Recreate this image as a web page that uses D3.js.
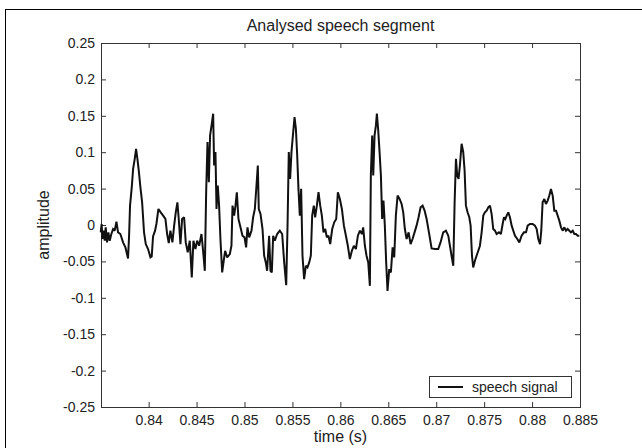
<!DOCTYPE html>
<html><head><meta charset="utf-8">
<script src="https://cdn.jsdelivr.net/npm/d3@7"></script>
<style>
body{margin:0;background:#fff}
text{font-family:"Liberation Sans",Arial,Helvetica,sans-serif}
</style>
</head><body>
<svg id="chart" width="642" height="448"></svg>
<script>
// ---- data ----
const time = [
0.83500,0.83510,0.83517,0.83531,0.83542,0.83552,0.83566,0.83580,0.83594,0.83611,
0.83629,0.83646,0.83664,0.83681,0.83705,0.83733,0.83758,0.83785,0.83796,0.83806,
0.83824,0.83838,0.83855,0.83869,0.83883,0.83897,0.83914,0.83932,0.83952,0.83970,
0.83994,0.84019,0.84032,0.84046,0.84067,0.84081,0.84102,0.84126,0.84151,0.84175,
0.84193,0.84210,0.84227,0.84248,0.84266,0.84283,0.84300,0.84314,0.84332,0.84349,
0.84370,0.84387,0.84408,0.84429,0.84450,0.84467,0.84488,0.84506,0.84527,0.84551,
0.84568,0.84586,0.84600,0.84614,0.84628,0.84641,0.84659,0.84673,0.84683,0.84697,
0.84708,0.84721,0.84735,0.84749,0.84767,0.84781,0.84798,0.84819,0.84847,0.84864,
0.84875,0.84892,0.84906,0.84920,0.84937,0.84958,0.84979,0.85000,0.85017,0.85031,
0.85049,
0.85073,0.85090,0.85108,0.85125,0.85139,0.85149,0.85167,0.85188,0.85205,0.85222,
0.85236,0.85257,0.85271,0.85285,0.85299,0.85316,0.85341,0.85368,0.85393,0.85414,
0.85435,0.85449,0.85462,0.85476,0.85490,0.85508,0.85522,0.85536,0.85549,0.85563,
0.85577,0.85591,0.85605,0.85622,0.85640,0.85657,0.85675,0.85692,0.85706,0.85723,
0.85737,0.85755,0.85772,0.85790,0.85807,0.85824,0.85842,0.85859,0.85876,0.85894,
0.85915,0.85936,0.85957,0.85974,0.85995,0.86016,0.86037,0.86058,0.86078,0.86099,
0.86120,0.86141,0.86162,0.86183,0.86204,0.86225,0.86238,0.86256,0.86273,0.86291,
0.86308,0.86318,0.86332,0.86343,0.86357,0.86371,0.86381,0.86395,0.86409,0.86423,
0.86436,0.86450,0.86464,0.86478,0.86492,0.86510,0.86527,0.86545,0.86562,0.86579,
0.86597,0.86618,0.86639,0.86656,0.86673,0.86691,0.86712,0.86733,0.86753,0.86774,
0.86795,0.86816,0.86837,0.86858,0.86879,0.86900,0.86924,
0.86952,0.86986,0.87021,0.87045,0.87073,0.87101,0.87126,0.87143,0.87160,0.87178,
0.87192,0.87206,0.87219,0.87233,0.87247,0.87265,0.87282,0.87296,0.87310,0.87327,
0.87345,0.87359,0.87373,0.87386,0.87404,0.87421,0.87439,0.87456,0.87474,0.87491,
0.87508,0.87526,0.87543,0.87561,0.87578,0.87595,0.87613,0.87630,0.87654,0.87675,
0.87693,0.87707,0.87721,0.87735,0.87752,0.87769,0.87787,0.87804,0.87822,0.87846,
0.87867,0.87891,0.87915,0.87937,0.87954,0.87978,0.88006,0.88030,0.88048,0.88065,
0.88083,0.88096,0.88110,0.88128,0.88145,0.88163,0.88180,0.88197,0.88215,0.88232,
0.88250,0.88267,0.88284,0.88302,0.88319,0.88337,0.88354,0.88371,0.88389,0.88406,
0.88424,0.88441,0.88458,0.88476,0.88493
];
const amplitude = [
-0.0101,0.0014,-0.0193,-0.0078,-0.0216,-0.0032,-0.0239,-0.0101,-0.0216,-0.0124,
-0.0055,-0.0078,0.0046,-0.0101,-0.0124,-0.0239,-0.0308,-0.0459,-0.0147,0.0266,
0.0519,0.0771,0.0909,0.1047,0.0909,0.0748,0.0519,0.0312,-0.0101,-0.0262,
-0.0331,-0.0445,-0.0432,-0.0156,-0.0078,0.0014,0.0220,0.0174,0.0129,0.0083,
-0.0124,-0.0248,-0.0078,-0.0239,-0.0009,0.0174,0.0312,0.0083,-0.0262,0.0083,
0.0106,-0.0239,-0.0376,-0.0216,-0.0721,-0.0216,-0.0331,-0.0216,-0.0285,-0.0124,
-0.0354,-0.0629,0.0450,0.1139,0.0588,0.1230,0.1391,0.1529,0.0817,0.1001,
0.0220,0.0542,0.0266,-0.0193,-0.0652,-0.0514,-0.0354,-0.0445,-0.0399,-0.0285,
0.0266,0.0129,0.0266,0.0450,0.0083,-0.0032,-0.0147,-0.0170,-0.0308,-0.0032,
-0.0170,
-0.0078,0.0106,0.0220,0.0542,0.0817,0.0220,0.0152,-0.0055,-0.0422,-0.0514,
-0.0629,-0.0147,-0.0629,-0.0652,-0.0147,-0.0216,-0.0124,-0.0078,-0.0124,-0.0514,
-0.0826,-0.0009,0.1001,0.0634,0.1001,0.1276,0.1483,0.1322,0.0978,0.0496,
0.0129,0.0496,-0.0422,-0.0744,-0.0560,-0.0583,-0.0514,-0.0422,0.0129,0.0266,
0.0106,0.0266,0.0450,0.0266,0.0129,-0.0101,-0.0055,-0.0170,-0.0147,-0.0262,
-0.0055,0.0037,0.0083,0.0450,0.0358,0.0220,-0.0009,-0.0147,-0.0285,-0.0468,
-0.0354,-0.0285,-0.0331,-0.0147,-0.0078,-0.0124,-0.0032,-0.0285,-0.0422,-0.0514,
-0.0836,0.0680,0.1230,0.0680,0.1230,0.1368,0.1529,0.1299,0.1001,0.0680,
0.0083,0.0335,-0.0009,-0.0514,-0.0905,-0.0606,-0.0652,-0.0308,-0.0445,0.0129,
0.0404,0.0358,0.0289,0.0174,-0.0055,-0.0193,-0.0101,-0.0262,-0.0193,-0.0101,
-0.0009,0.0106,0.0243,0.0266,0.0197,0.0083,-0.0101,
-0.0321,-0.0331,-0.0331,-0.0239,-0.0101,-0.0078,-0.0147,-0.0285,-0.0422,-0.0560,
0.0312,0.0909,0.0680,0.0634,0.0817,0.1116,0.1001,0.0748,0.0266,0.0174,
0.0106,-0.0009,-0.0422,-0.0583,-0.0491,-0.0422,-0.0354,-0.0285,-0.0101,0.0129,
0.0174,0.0197,0.0243,0.0266,0.0152,-0.0055,-0.0078,-0.0124,-0.0101,-0.0124,
0.0014,0.0106,0.0083,0.0129,0.0174,0.0106,-0.0009,-0.0078,-0.0147,-0.0193,
-0.0239,-0.0147,-0.0101,-0.0101,-0.0009,0.0014,0.0014,-0.0009,-0.0055,-0.0193,
-0.0262,-0.0078,0.0312,0.0358,0.0289,0.0335,0.0404,0.0496,0.0404,0.0197,
0.0197,0.0129,0.0060,-0.0032,-0.0078,-0.0032,-0.0078,-0.0055,-0.0078,-0.0101,
-0.0078,-0.0124,-0.0124,-0.0147,-0.0147
];
const xTickValues = [0.84,0.845,0.85,0.855,0.86,0.865,0.87,0.875,0.88,0.885];
const xTickLabels = ["0.84","0.845","0.85","0.855","0.86","0.865","0.87","0.875","0.88","0.885"];
const yTickValues = [-0.25,-0.2,-0.15,-0.1,-0.05,0,0.05,0.1,0.15,0.2,0.25];
const yTickLabels = ["-0.25","-0.2","-0.15","-0.1","-0.05","0","0.05","0.1","0.15","0.2","0.25"];
const xDomain = [0.83503, 0.885];
const yDomain = [-0.25, 0.25];
const chartTitle = "Analysed speech segment";
const xLabel = "time (s)";
const yLabel = "amplitude";
const legendLabel = "speech signal";

// ---- layout ----
const W = 642, H = 448;
const plot = {left: 101, top: 43, right: 580, bottom: 407};
const svg = d3.select("#chart");
const axisColor = "#333", textColor = "#222";
const tickFs = 14, labelFs = 16;

// outer figure frame
svg.append("rect").attr("x",5.5).attr("y",9.5).attr("width",W).attr("height",H)
  .attr("fill","none").attr("stroke","#000").attr("stroke-width",1);

const x = d3.scaleLinear().domain(xDomain).range([plot.left, plot.right]);
const y = d3.scaleLinear().domain(yDomain).range([plot.bottom, plot.top]);

function styleAxis(g){
  g.select(".domain").remove();
  g.selectAll(".tick line").attr("stroke",axisColor);
  g.selectAll(".tick text").attr("fill",textColor).style("font-size",tickFs+"px")
    .style("font-family",'"Liberation Sans",Arial,sans-serif');
}
const xfmt = d => xTickLabels[xTickValues.indexOf(d)];
const yfmt = d => yTickLabels[yTickValues.indexOf(d)];

svg.append("g").attr("transform",`translate(0,${plot.bottom})`)
  .call(d3.axisBottom(x).tickValues(xTickValues).tickFormat(xfmt).tickSizeInner(-5).tickSizeOuter(0).tickPadding(8))
  .call(styleAxis);
svg.append("g").attr("transform",`translate(0,${plot.top})`)
  .call(d3.axisTop(x).tickValues(xTickValues).tickFormat("").tickSizeInner(-5).tickSizeOuter(0))
  .call(styleAxis);
svg.append("g").attr("transform",`translate(${plot.left},0)`)
  .call(d3.axisLeft(y).tickValues(yTickValues).tickFormat(yfmt).tickSizeInner(-5).tickSizeOuter(0).tickPadding(6))
  .call(styleAxis);
svg.append("g").attr("transform",`translate(${plot.right},0)`)
  .call(d3.axisRight(y).tickValues(yTickValues).tickFormat("").tickSizeInner(-5).tickSizeOuter(0))
  .call(styleAxis);

// axes box
svg.append("rect").attr("x",plot.left+0.5).attr("y",plot.top+0.5)
  .attr("width",plot.right-plot.left).attr("height",plot.bottom-plot.top)
  .attr("fill","none").attr("stroke",axisColor).attr("stroke-width",1);

// signal
const data = time.map((t,i)=>({t, v: amplitude[i]}));
svg.append("path").datum(data)
  .attr("fill","none").attr("stroke","#111").attr("stroke-width",2)
  .attr("stroke-linejoin","miter").attr("stroke-miterlimit",2)
  .attr("d", d3.line().x(d=>x(d.t)).y(d=>y(d.v)));

// title & labels
const cx = (plot.left+plot.right)/2;
svg.append("text").attr("x",cx).attr("y",31).attr("text-anchor","middle")
  .attr("fill",textColor).style("font-size",labelFs+"px").text(chartTitle);
svg.append("text").attr("x",cx).attr("y",442).attr("text-anchor","middle")
  .attr("fill",textColor).style("font-size",labelFs+"px").text(xLabel);
svg.append("text").attr("transform",`translate(49,${(plot.top+plot.bottom)/2}) rotate(-90)`)
  .attr("text-anchor","middle").attr("fill",textColor).style("font-size",labelFs+"px").text(yLabel);

// legend
const lg = svg.append("g");
lg.append("rect").attr("x",429.5).attr("y",376.5).attr("width",142).attr("height",21)
  .attr("fill","#fff").attr("stroke",axisColor).attr("stroke-width",1);
lg.append("line").attr("x1",438).attr("x2",463).attr("y1",387).attr("y2",387)
  .attr("stroke","#111").attr("stroke-width",2);
lg.append("text").attr("x",472).attr("y",392).attr("fill",textColor)
  .style("font-size",tickFs+"px").text(legendLabel);
</script>
</body></html>
